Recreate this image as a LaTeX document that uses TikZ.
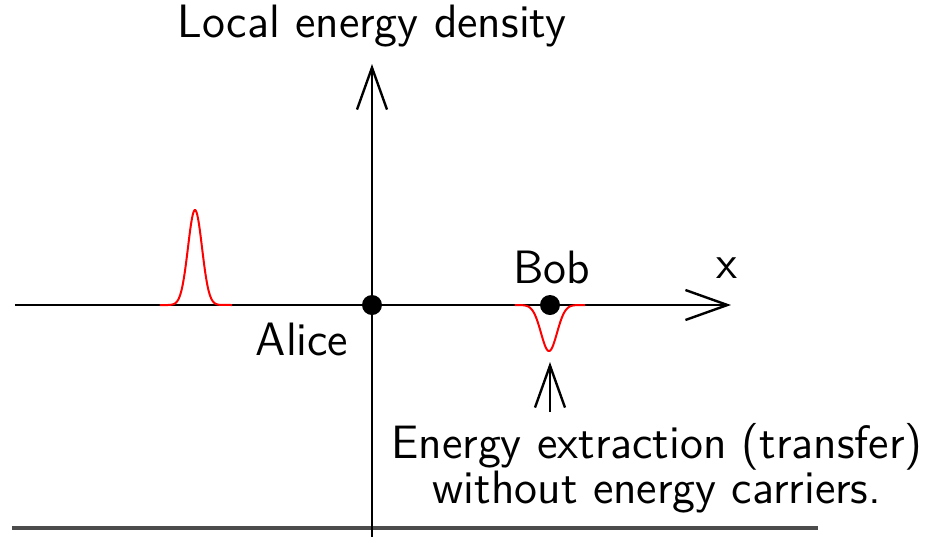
\documentclass[tikz,border=0pt]{standalone}
\usetikzlibrary{arrows.meta}
\begin{document}
\begin{tikzpicture}[x=0.25pt,y=-0.25pt,
  txt/.style={font=\sffamily\fontsize{11.7}{11.25}\selectfont, inner sep=0pt},
  axis/.style={line width=0.6pt, black, -{Straight Barb[length=10.5pt,width=7.5pt,line width=0.6pt]}},
  dot/.style={circle, fill=black, minimum size=5pt, inner sep=0pt},
  pulse/.style={red, line width=0.5pt}]
\useasboundingbox (0,0) rectangle (935,537);
% bottom line
\coordinate (bl) at (12,528);
\coordinate (br) at (818,528);
\draw[line width=0.8pt, black!70] (bl) -- (br);
% axes
\coordinate (yb) at (372,537);
\coordinate (yt) at (372,64);
\coordinate (xl) at (15,305);
\coordinate (xr) at (731,305);
\draw[axis] (yb) -- (yt);
\draw[axis] (xl) -- (xr);
% pulses
\draw[pulse] (160,305) -- (168,305) plot[domain=168:222, samples=80, smooth] (\x,{305-95*exp(-((\x-195)^2)/(2*7^2))}) -- (232,305);
\draw[pulse] (515,305) -- (522,305) plot[domain=522:576, samples=80, smooth] (\x,{305+46*exp(-((\x-549)^2)/(2*8^2))}) -- (585,305);
% dots
\node[dot] (alice) at (372,305) {};
\node[dot] (bob) at (550,305) {};
% labels
\node[txt, anchor=base] (title) at (372,37) {Local energy density};
\node[txt, anchor=base] (xlab) at (727,278) {x};
\node[txt, anchor=base] (boblab) at (552,283) {Bob};
\node[txt, anchor=base] (alicelab) at (302,355) {Alice};
\node[txt, anchor=base, align=center] (note) at (657,503) {Energy extraction (transfer)\\without energy carriers.};
% arrow to dip
\coordinate (ab) at (550,412);
\coordinate (at) at (550,362);
\draw[axis] (ab) -- (at);
\end{tikzpicture}
\end{document}
